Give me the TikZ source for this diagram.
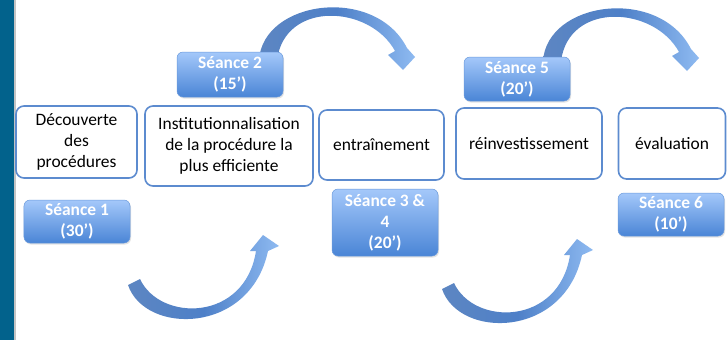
\documentclass[tikz,border=0pt]{standalone}
\usepackage{fontspec}
\setmainfont{Carlito}
\usetikzlibrary{shadows}

\definecolor{barblue}{HTML}{02628C}
\definecolor{barrule}{HTML}{C4C4C4}
\definecolor{stageline}{HTML}{5C8BCF}
\definecolor{sesstop}{HTML}{A4C8FA}
\definecolor{sessbot}{HTML}{4A85D6}
\definecolor{sessline}{HTML}{6A9ADC}
\definecolor{arcdark}{HTML}{5D86C2}
\definecolor{arcmid}{HTML}{4E80C8}
\definecolor{arclight}{HTML}{8EBAF1}

\tikzset{
  stage/.style={draw=stageline, line width=1.6bp, rounded corners=8bp, fill=white,
    align=center, text=black, inner sep=0pt, font=\fontsize{17.5}{21}\selectfont},
  session/.style={rounded corners=6bp, top color=sesstop, bottom color=sessbot,
    draw=sessline, line width=0.5bp, align=center, text=white, inner sep=0pt,
    minimum width=106bp, font=\bfseries\fontsize{17.5}{21}\selectfont,
    drop shadow={opacity=0.22, shadow xshift=1bp, shadow yshift=-1.5bp}},
  arcfill/.style={left color=arcdark, right color=arclight, middle color=arcmid},
  % curved arrow rising from a session box and falling onto the next stage
  overarc/.pic={
    \path[arcfill]
      (259,60) .. controls (263,0) and (375,-15) .. (407,48)
      -- (415,57) -- (403,70) -- (388,55) -- (395,51)
      .. controls (370,5) and (285,0) .. (277,60) -- cycle;
  },
  % curved arrow sweeping under the stages and rising to the next session
  underarc/.pic={
    \path[arcfill]
      (128,285) .. controls (145,335) and (250,335) .. (268,251)
      -- (279,246) -- (263,235) -- (250,251) -- (256,251)
      .. controls (245,322) and (160,322) .. (140,279) -- cycle;
  },
}

\begin{document}
\begin{tikzpicture}[x=1bp, y=-1bp]
  \useasboundingbox (0,0) rectangle (727,340);
  \fill[white] (0,0) rectangle (727,340);

  % side band
  \fill[barblue] (0,0) rectangle (14,340);
  \fill[barrule] (14,0) rectangle (15.5,340);

  % arrows, drawn beneath the boxes
  \pic at (0,0) {overarc};
  \pic at (284,1) {overarc};
  \pic at (0,0) {underarc};
  \pic at (314,4) {underarc};

  % stages
  \node[stage, minimum width=121bp, minimum height=72bp] (decouverte) at (76.5,142)
    {Découverte\\des\\procédures};
  \node[stage, minimum width=168bp, minimum height=80bp] (instit) at (229,146)
    {Institutionnalisation\\de la procédure la\\plus efficiente};
  \node[stage, minimum width=125bp, minimum height=70bp] (entrain) at (381.5,145)
    {entraînement};
  \node[stage, minimum width=146bp, minimum height=71bp] (reinv) at (529,143.5)
    {réinvestissement};
  \node[stage, minimum width=107bp, minimum height=71bp] (evalu) at (672,143.5)
    {évaluation};

  % sessions
  \node[session, minimum height=45bp] (s2) at (230,74.5) {Séance 2\\(15’)};
  \node[session, minimum height=44bp] (s5) at (517,79) {Séance 5\\(20’)};
  \node[session, minimum height=43bp] (s1) at (77,221.5) {Séance 1\\(30’)};
  \node[session, minimum height=67bp] (s34) at (385,222.5) {Séance 3 \&\\4\\(20’)};
  \node[session, minimum height=43bp] (s6) at (671,214.5) {Séance 6\\(10’)};
\end{tikzpicture}
\end{document}
